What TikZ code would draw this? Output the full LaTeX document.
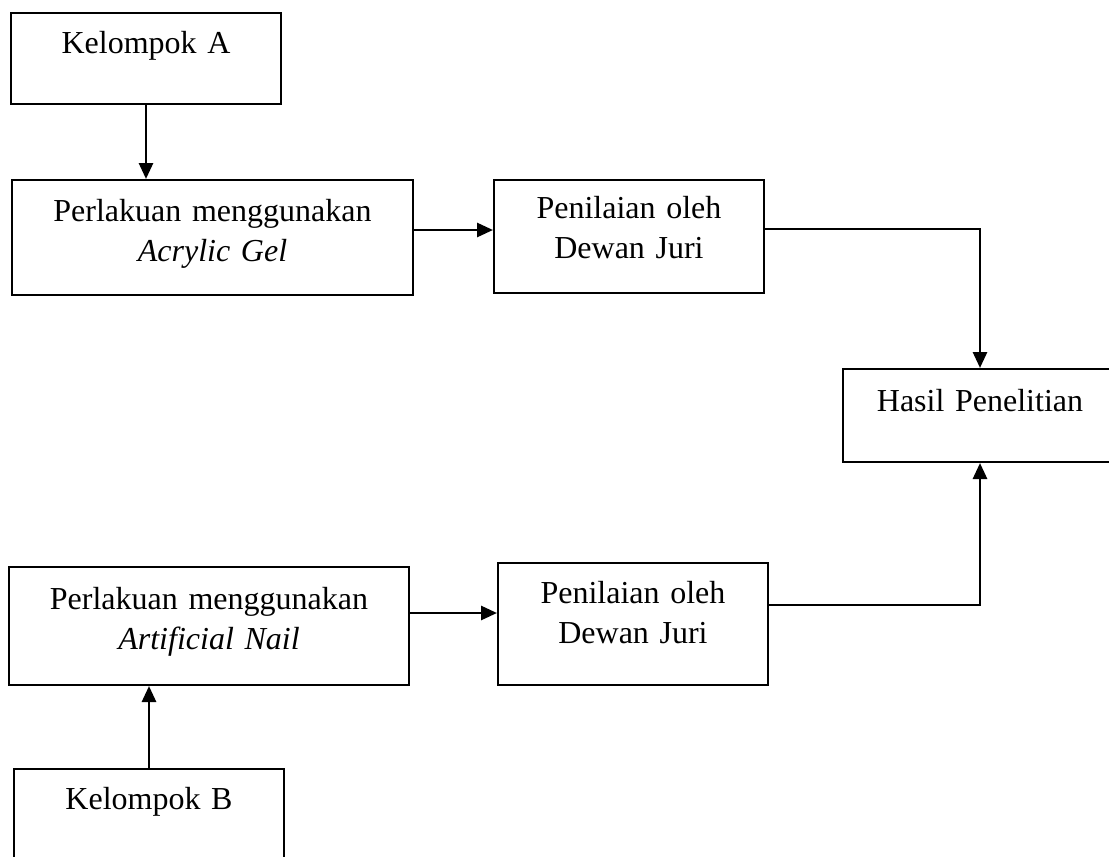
\documentclass[tikz,border=0pt]{standalone}
\usepackage{fontspec}
\setmainfont{Liberation Serif}
\usetikzlibrary{arrows.meta}

\begin{document}
\begin{tikzpicture}[x=0.5pt, y=-0.5pt,
		kotak/.style={draw, line width=1pt, inner sep=0pt, anchor=north west, align=center, font=\fontsize{16}{20}\selectfont},
		panah/.style={line width=1.4pt, -{Triangle[length=8pt,width=7pt]}}]
		%%%%% START %%%%%
		\useasboundingbox (0, 0) rectangle (1109, 857);
		
		\node[kotak, text width=135pt, text height=20pt, text depth=25.5pt] (kelA) at (10, 12) {Kelompok A};
		\node[kotak, text width=200.5pt, text height=20.5pt, text depth=37pt] (perA) at (11, 179) {Perlakuan menggunakan\\\textit{Acrylic Gel}};
		\node[kotak, text width=135pt, text height=19pt, text depth=37.5pt] (penA) at (493, 179) {Penilaian oleh\\Dewan Juri};
		
		\node[kotak, text width=137pt, text height=21pt, text depth=25.5pt] (hasil) at (842, 368) {Hasil Penelitian};
		
		\node[kotak, text width=200pt, text height=21pt, text depth=38pt] (perB) at (8, 566) {Perlakuan menggunakan\\\textit{Artificial Nail}};
		\node[kotak, text width=135pt, text height=20pt, text depth=41pt] (penB) at (497, 562) {Penilaian oleh\\Dewan Juri};
		\node[kotak, text width=135pt, text height=20pt, text depth=25.5pt] (kelB) at (13, 768) {Kelompok B};
		
		\draw[panah] (kelA.south) -- (kelA.south |- perA.north);
		\draw[panah] ([yshift=3.75pt]perA.east) -- ([yshift=3.75pt]perA.east -| penA.west);
		\draw[panah] ([yshift=3.75pt]penA.east) -| (hasil.north);
		
		\draw[panah] (kelB.north) -- (kelB.north |- perB.south);
		\draw[panah] ([yshift=6.5pt]perB.east) -- ([yshift=6.5pt]perB.east -| penB.west);
		\draw[panah] ([yshift=9.5pt]penB.east) -| (hasil.south);
		%%%%% END %%%%%
\end{tikzpicture}
\end{document}
